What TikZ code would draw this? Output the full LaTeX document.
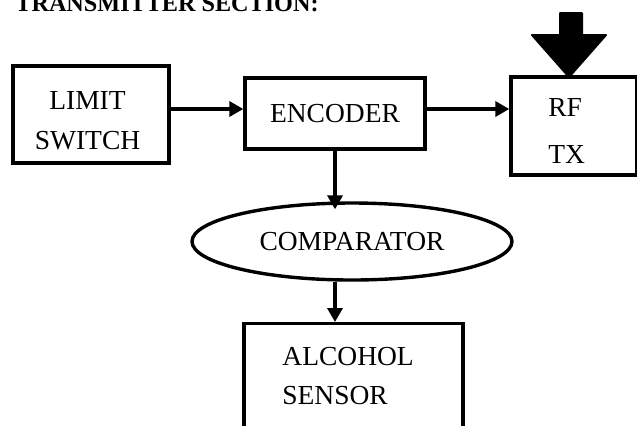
\documentclass[tikz,border=0pt]{standalone}
\usepackage{fontspec}
\setmainfont{Liberation Serif}
\usetikzlibrary{arrows.meta,shapes.geometric}

\tikzset{
  blk/.style={draw, line width=1.7pt, rectangle, inner sep=0pt, font=\fontsize{13.75}{20}\selectfont},
  txt/.style={inner sep=0pt, font=\fontsize{13.75}{20}\selectfont},
  sig/.style={line width=1.7pt, -{Triangle[length=7pt,width=7.5pt]}},
}

\begin{document}
\begin{tikzpicture}[x=0.5pt,y=-0.5pt]
        \useasboundingbox (0,0) rectangle (637,425);

        % heading
        \node[anchor=base west, inner sep=0pt, font=\fontsize{12.1}{14}\bfseries] (title) at (15,11) {TRANSMITTER SECTION:};

        \node[blk, minimum width=78pt, minimum height=48.5pt] (limit) at (91,114.5) {}; %limit switch
        \node[txt, anchor=north, align=center] (limit-txt) at (87.5,91) {LIMIT\\SWITCH};
        \node[blk, minimum width=90pt, minimum height=35.5pt] (encoder) at (335,113.5) {ENCODER}; %encoder
        \node[blk, minimum width=63pt, minimum height=49pt] (rf) at (574,126) {}; %rf tx
        \node[txt, anchor=north west, align=left] (rf-txt) at (548,98) {RF\\[3.5pt]TX};
        \node[blk, ellipse, minimum width=160pt, minimum height=38.5pt] (comp) at (352,241.5) {COMPARATOR}; %comparator
        \node[blk, anchor=north, minimum width=109.5pt, minimum height=53pt] (alcohol) at (353.5,322) {}; %sensor
        \node[txt, anchor=north west, align=left] (alcohol-txt) at (282,347) {ALCOHOL\\[-0.5pt]SENSOR};

        % antenna arrow on top of the transmitter
        \draw[fill=black, line width=1pt, line join=round] (560,13) -- (582,13) -- (582,35) -- (606,35) -- (569,77) -- (532,35) -- (560,35) -- cycle;

        \coordinate (bus) at (0,109);
        \draw[sig] (limit.east |- bus) -- (encoder.west |- bus);
        \draw[sig] (encoder.east |- bus) -- (rf.west |- bus);
        \draw[sig, shorten >=-4pt] (encoder.south) -- (encoder.south |- comp.north);
        \draw[sig] (encoder.south |- comp.south) -- (encoder.south |- alcohol.north);
\end{tikzpicture}
\end{document}
